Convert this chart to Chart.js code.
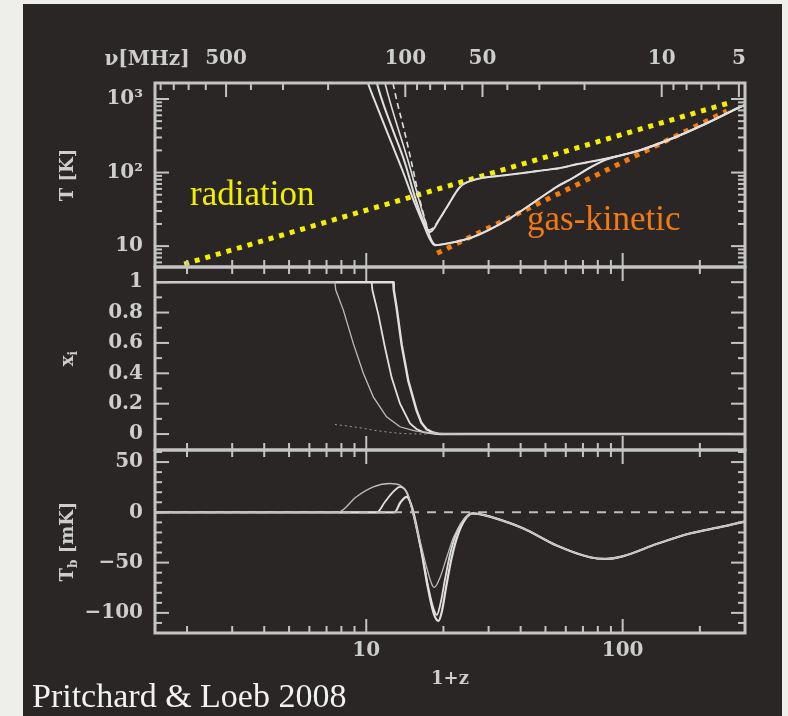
<!DOCTYPE html>
<html>
<head>
<meta charset="utf-8">
<script src="https://cdn.jsdelivr.net/npm/chart.js@4.4.1/dist/chart.umd.min.js"></script>
<style>
  html, body { margin: 0; padding: 0; }
  body { width: 788px; height: 716px; background: #eeeeeb; position: relative; overflow: hidden; }
  #panel { position: absolute; left: 23px; top: 4px; width: 759px; height: 712px; background: #2b2626; }
  #panel canvas { position: absolute; left: 0; top: 0; }
</style>
</head>
<body>
<div id="panel">
  <canvas id="c1" width="759" height="712"></canvas>
  <canvas id="c2" width="759" height="712"></canvas>
  <canvas id="c3" width="759" height="712"></canvas>
</div>
<script>
// shared x axis: 1+z, frequency on top
const zMin = 1.5, zMax = 300;
const zLabels = [10, 100];
const zMinor = [2, 3, 4, 5, 6, 7, 8, 9, 20, 30, 40, 50, 60, 70, 80, 90, 200];
const nuLabels = [500, 100, 50, 10, 5];
const nuMinor = [900, 800, 700, 600, 400, 300, 200, 90, 80, 70, 60, 40, 30, 20, 9, 8, 7, 6];

// top panel, T [K]  (points are [1+z, T])
const tempLabels = [10, 100, 1000];
const tempText = ['10', '10²', '10³'];
const tempMinor = [6, 7, 8, 9, 20, 30, 40, 50, 60, 70, 80, 90, 200, 300, 400, 500, 600, 700, 800, 900];
const descentA = [[9.9, 2200], [10.15, 1650], [11.0, 800], [12.3, 300], [13.8, 110], [15.3, 42], [16.7, 20], [17.7, 12.5], [18.5, 10.3]];
const descentB = [[10.8, 2200], [11.0, 1650], [11.6, 900], [12.7, 378], [14.16, 135], [15.49, 46], [16.6, 23], [17.7, 15.5]];
const descentC = [[11.6, 2200], [11.83, 1650], [12.4, 900], [13.3, 400], [14.6, 140], [15.9, 48], [17.1, 20], [18.0, 12], [18.7, 10.4]];
const descentD = [[12.4, 2200], [12.7, 1650], [13.2, 900], [14.0, 400], [15.0, 140], [16.0, 50], [16.9, 24], [17.6, 16.5]];
const kineticBranch = [[21.2, 11.0], [26.1, 13.3], [35.4, 22.6], [47.6, 45], [55.3, 64], [64.2, 85], [74.6, 117], [86.6, 151], [116.8, 200], [157, 293], [213, 468], [287, 775], [300, 830]];
const spinBranch = [[19.4, 24], [20.65, 34], [23.2, 63.5], [26.1, 79], [35.4, 92.5], [47.6, 106], [57, 115], [64.2, 126.5], [86.6, 155], [116.8, 202], [157, 295], [213, 471], [287, 779], [300, 830]];
const radiationLine = [[1.95, 5.7], [267, 910]];
const gasKineticLine = [[18.9, 8.0], [255, 686]];

// middle panel, x_i
const xiLabels = [0, 0.2, 0.4, 0.6, 0.8, 1];
const xiText = ['0', '0.2', '0.4', '0.6', '0.8', '1'];
const xiMinor = [0.1, 0.3, 0.5, 0.7, 0.9];
const xiA = [[1.5, 1], [7.55, 1], [7.6, 0.95], [8.14, 0.816], [8.9, 0.597], [9.74, 0.40], [10.65, 0.245], [12.0, 0.114], [13.54, 0.048], [15.3, 0.022], [17.25, 0.01], [20, 0.002], [24, 0], [300, 0]];
const xiB = [[1.5, 1], [10.5, 1], [10.56, 0.95], [11.14, 0.79], [11.83, 0.57], [12.57, 0.37], [13.54, 0.20], [14.81, 0.07], [15.7, 0.033], [16.68, 0.013], [18.8, 0], [300, 0]];
const xiC = [[1.5, 1], [12.75, 1], [12.8, 0.95], [13.14, 0.83], [13.74, 0.59], [14.59, 0.35], [15.72, 0.155], [16.4, 0.075], [17.2, 0.032], [18.2, 0.01], [19.4, 0], [300, 0]];
const xiResidual = [[7.55, 0.063], [9.13, 0.045], [10.97, 0.023], [13.54, 0.005], [17.2, 0]];

// bottom panel, T_b [mK]
const tbLabels = [-100, -50, 0, 50];
const tbText = ['−100', '−50', '0', '50'];
const tbMinor = [-110, -90, -80, -70, -60, -40, -30, -20, -10, 10, 20, 30, 40, 60];
const tbA = [[1.5, 0], [7.76, 0], [9.13, 15.3], [10.65, 25.3], [12.37, 28.7], [13.54, 27], [14.59, 17], [15.2, -1.3], [16.2, -28], [17.2, -54.7], [18.0, -71.3], [18.4, -74.7], [19.4, -64.7], [20.6, -44.7], [21.9, -24.7], [23.9, -8], [25.5, -1.5], [28, -2]];
const tbB = [[1.5, 0], [11.0, 0], [11.8, 10], [12.7, 20], [13.54, 25.3], [14.3, 21], [15.0, 6], [15.7, -16], [16.6, -45], [17.5, -76], [18.3, -96], [18.85, -102], [19.5, -90], [20.3, -66], [21.3, -40], [22.6, -19], [24.2, -6], [25.8, -1], [28, -2]];
const tbC = [[1.5, 0], [12.9, 0], [13.6, 10], [14.37, 15.3], [15.0, 7], [15.6, -10], [16.4, -38], [17.3, -72], [18.3, -100], [19.1, -108], [19.7, -99], [20.5, -74], [21.5, -46], [22.8, -22], [24.3, -7], [26, -1], [28, -2]];
const tbTail = [[30.4, -4.3], [41, -16], [55.3, -33], [74.6, -44.7], [86, -46.3], [100.6, -43.5], [135.7, -31.5], [183, -21], [247, -14], [300, -9]];
const tbZero = [[1.5, 0], [300, 0]];

const labelColor = '#cdcdcd';
const frameColor = '#c4c4c4';
const curveColor = '#e0e0e0';
const tickFont = { family: "'DejaVu Serif', serif", weight: 'bold', size: 20 };

function pts(list) {
  return list.map(p => ({ x: p[0], y: p[1] }));
}

function curve(list, extra) {
  return Object.assign({
    data: pts(list),
    borderColor: curveColor,
    borderWidth: 2,
    pointRadius: 0,
    fill: false,
    cubicInterpolationMode: 'monotone'
  }, extra);
}

function fixedTicks(values) {
  return scale => { scale.ticks = values.map(v => ({ value: v })); };
}

function xAxis(show) {
  return {
    type: 'logarithmic', min: zMin, max: zMax, display: show,
    grid: { display: false, drawTicks: false }, border: { display: false },
    afterBuildTicks: fixedTicks(zLabels),
    afterFit: s => { s.height = show ? 70 : 0; },
    ticks: { color: labelColor, font: tickFont, padding: 6, maxRotation: 0, autoSkip: false, callback: v => String(v) },
    title: { display: true, text: '1+z', color: labelColor, font: { family: "'DejaVu Serif', serif", weight: 'bold', size: 18 }, padding: { top: 0, bottom: 13 } }
  };
}

function yAxis(type, min, max, values, texts) {
  return {
    type: type, min: min, max: max,
    grid: { display: false, drawTicks: false }, border: { display: false },
    afterBuildTicks: fixedTicks(values),
    afterFit: s => { s.width = 132; },
    ticks: { color: labelColor, font: tickFont, padding: 12, autoSkip: false, callback: v => texts[values.indexOf(v)] }
  };
}

// frame, inward ticks, axis title and notes for one panel
const panelDecor = {
  id: 'panelDecor',
  afterDatasetsDraw(chart, args, o) {
    const { ctx, chartArea: a, scales } = chart;
    const seg = (x1, y1, x2, y2) => { ctx.beginPath(); ctx.moveTo(x1, y1); ctx.lineTo(x2, y2); ctx.stroke(); };
    const markX = (scale, values, len, edge, dir) => values.forEach(v => {
      const p = scale.getPixelForValue(v);
      seg(p, edge, p, edge + dir * len);
    });
    const markY = (values, len) => values.forEach(v => {
      const p = scales.y.getPixelForValue(v);
      seg(a.left, p, a.left + len, p);
      seg(a.right, p, a.right - len, p);
    });
    ctx.save();
    ctx.strokeStyle = frameColor;
    ctx.lineWidth = 2;
    const top = scales[o.topScale];
    markX(scales.x, zLabels, 14, a.bottom, -1);
    markX(scales.x, zMinor, 7, a.bottom, -1);
    markX(top, o.topMajor, 14, a.top, 1);
    markX(top, o.topMinor, 7, a.top, 1);
    markY(o.yMajor, 14);
    markY(o.yMinor, 7);
    ctx.lineWidth = 3;
    ctx.strokeRect(a.left, a.top, a.right - a.left, a.bottom - a.top);

    // rotated y title, parts may be subscript
    ctx.fillStyle = labelColor;
    ctx.textBaseline = 'middle';
    const big = "bold 18px 'DejaVu Serif', serif";
    const small = "bold 12px 'DejaVu Serif', serif";
    let w = 0;
    o.title.forEach(p => { ctx.font = p.sub ? small : big; w += ctx.measureText(p.t).width; });
    ctx.translate(45, (a.top + a.bottom) / 2);
    ctx.rotate(-Math.PI / 2);
    let x = -w / 2;
    o.title.forEach(p => {
      ctx.font = p.sub ? small : big;
      ctx.textAlign = 'left';
      ctx.fillText(p.t, x, p.sub ? 6 : 0);
      x += ctx.measureText(p.t).width;
    });
    ctx.restore();

    ctx.save();
    (o.notes || []).forEach(n => {
      ctx.font = n.font;
      ctx.fillStyle = n.color;
      ctx.textAlign = n.align || 'left';
      ctx.textBaseline = n.baseline || 'alphabetic';
      ctx.fillText(n.text, n.x, n.y);
    });
    ctx.restore();
  }
};

function baseOptions(padding) {
  return {
    responsive: false,
    animation: false,
    devicePixelRatio: 1,
    layout: { padding: padding, autoPadding: false },
    plugins: { legend: { display: false }, tooltip: { enabled: false } }
  };
}

// top panel
const opt1 = baseOptions({ left: 0, right: 37, top: 0, bottom: 449 });
opt1.scales = {
  x: xAxis(false),
  nu: {
    type: 'logarithmic', axis: 'x', position: 'top', reverse: true,
    min: 1420 / zMax, max: 1420 / zMin,
    grid: { display: false, drawTicks: false }, border: { display: false },
    afterBuildTicks: fixedTicks(nuLabels),
    afterFit: s => { s.height = 79; },
    ticks: { color: labelColor, font: tickFont, padding: 12, maxRotation: 0, autoSkip: false, callback: v => String(v) }
  },
  y: yAxis('logarithmic', 5.2, 1650, tempLabels, tempText)
};
opt1.plugins.panelDecor = {
  topScale: 'nu', topMajor: nuLabels, topMinor: nuMinor,
  yMajor: tempLabels, yMinor: tempMinor,
  title: [{ t: 'T [K]' }],
  notes: [
    { text: 'ν[MHz]', x: 124, y: 56, align: 'center', baseline: 'middle', color: labelColor, font: "bold 20px 'DejaVu Serif', serif" },
    { text: 'radiation', x: 167, y: 201, color: '#f3ef00', font: "35px 'Liberation Serif', serif" },
    { text: 'gas-kinetic', x: 504, y: 226, color: '#f27a12', font: "35px 'Liberation Serif', serif" }
  ]
};

new Chart(document.getElementById('c1'), {
  type: 'line',
  data: {
    datasets: [
      curve(descentA.concat(kineticBranch)),
      curve(descentC.concat(kineticBranch), { borderWidth: 1.6 }),
      curve(descentB.concat(spinBranch)),
      curve(descentD.concat(spinBranch), { borderWidth: 1.6, borderDash: [6, 4] }),
      curve(radiationLine, { borderColor: '#f5f000', borderWidth: 5, borderDash: [5, 6], cubicInterpolationMode: 'default' }),
      curve(gasKineticLine, { borderColor: '#f57b0c', borderWidth: 5, borderDash: [5, 6], cubicInterpolationMode: 'default' })
    ]
  },
  options: opt1,
  plugins: [panelDecor]
});

// middle panel, straight segments keep the sharp start of each drop
const opt2 = baseOptions({ left: 0, right: 37, top: 263, bottom: 266 });
opt2.scales = {
  x: xAxis(false),
  y: yAxis('linear', -0.105, 1.1, xiLabels, xiText)
};
opt2.plugins.panelDecor = {
  topScale: 'x', topMajor: zLabels, topMinor: zMinor,
  yMajor: xiLabels, yMinor: xiMinor,
  title: [{ t: 'x' }, { t: 'i', sub: true }]
};

new Chart(document.getElementById('c2'), {
  type: 'line',
  data: {
    datasets: [
      curve(xiResidual, { borderWidth: 1, borderColor: '#9a9a9a', borderDash: [2, 3] }),
      curve(xiA, { borderWidth: 1.3, borderColor: '#bdbdbd', cubicInterpolationMode: 'default', tension: 0 }),
      curve(xiB, { borderWidth: 1.8, cubicInterpolationMode: 'default', tension: 0 }),
      curve(xiC, { borderWidth: 2.4, cubicInterpolationMode: 'default', tension: 0 })
    ]
  },
  options: opt2,
  plugins: [panelDecor]
});

// bottom panel
const opt3 = baseOptions({ left: 0, right: 37, top: 446, bottom: 13 });
opt3.scales = {
  x: xAxis(true),
  y: yAxis('linear', -120, 62, tbLabels, tbText)
};
opt3.plugins.panelDecor = {
  topScale: 'x', topMajor: zLabels, topMinor: zMinor,
  yMajor: tbLabels, yMinor: tbMinor,
  title: [{ t: 'T' }, { t: 'b', sub: true }, { t: ' [mK]' }],
  notes: [
    { text: 'Pritchard & Loeb 2008', x: 9, y: 703, color: '#f2f2f2', font: "34px 'Liberation Serif', serif" }
  ]
};

new Chart(document.getElementById('c3'), {
  type: 'line',
  data: {
    datasets: [
      curve(tbZero, { borderColor: '#bdbdbd', borderWidth: 2, borderDash: [9, 8], cubicInterpolationMode: 'default' }),
      curve(tbA.concat(tbTail), { borderWidth: 1.3, borderColor: '#bdbdbd' }),
      curve(tbB.concat(tbTail), { borderWidth: 1.8 }),
      curve(tbC.concat(tbTail), { borderWidth: 2.2 })
    ]
  },
  options: opt3,
  plugins: [panelDecor]
});
</script>
</body>
</html>
